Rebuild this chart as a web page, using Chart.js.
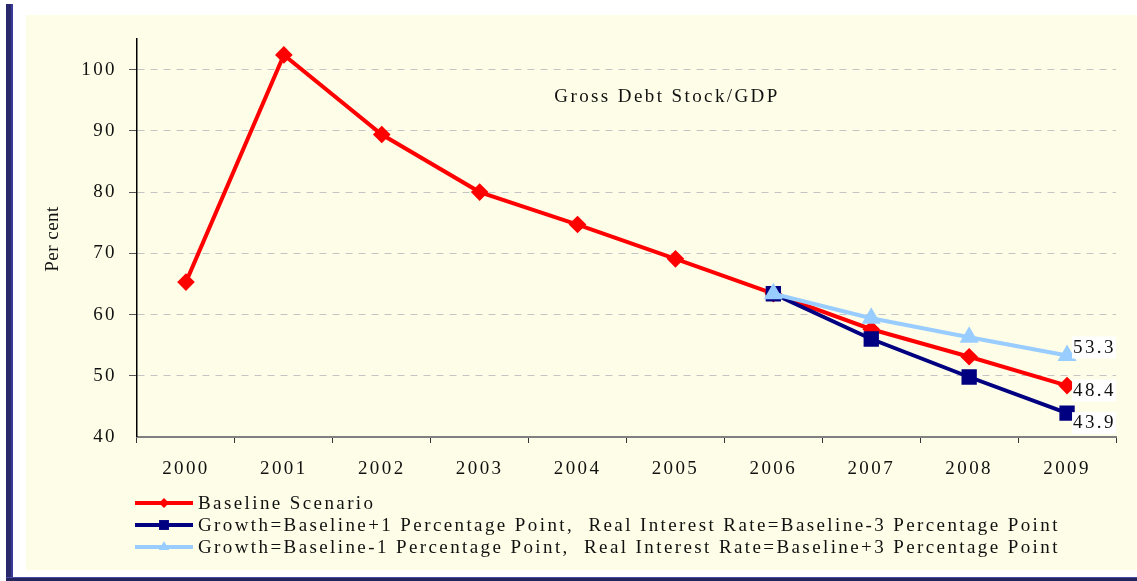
<!DOCTYPE html>
<html>
<head>
<meta charset="utf-8">
<script src="https://cdn.jsdelivr.net/npm/chart.js@4.4.1/dist/chart.umd.min.js"></script>
<style>
    body { margin: 0; background: #fff; width: 1137px; height: 581px; position: relative; overflow: hidden; }
    #leftBar { position: absolute; left: 6px; top: 4px; width: 5px; height: 577px; background: #28286a; border-right: 2px solid #3a3a98; }
    #bottomBar { position: absolute; left: 6px; top: 577px; width: 1131px; height: 4px; background: #24245e; border-top: 1px solid #4a4aa0; }
    #panel { position: absolute; left: 26px; top: 15px; width: 1111px; height: 555px; background: #fefee8; }
</style>
</head>
<body>
<div id="leftBar"></div>
<div id="panel"><canvas id="debtChart" width="1111" height="555"></canvas></div>
<div id="bottomBar"></div>
<script>
const years = ['2000', '2001', '2002', '2003', '2004', '2005', '2006', '2007', '2008', '2009'];
const baseline = [65.3, 102.4, 89.4, 80.0, 74.7, 69.1, 63.4, 57.6, 53.1, 48.4];
const growthPlus = [null, null, null, null, null, null, 63.4, 56.0, 49.8, 43.9];
const growthMinus = [null, null, null, null, null, null, 63.4, 59.4, 56.3, 53.3];

const seriesNames = [
    'Baseline Scenario',
    'Growth=Baseline+1 Percentage Point,  Real Interest Rate=Baseline-3 Percentage Point',
    'Growth=Baseline-1 Percentage Point,  Real Interest Rate=Baseline+3 Percentage Point'
];
const chartTitle = 'Gross Debt Stock/GDP';
const yTitle = 'Per cent';

const serif = '"Liberation Serif", "DejaVu Serif", serif';
const spacing = '2.4px';

// letter spacing like the original pdf rendering
const spacingPlugin = {
    id: 'spacing',
    beforeUpdate(chart) { chart.ctx.letterSpacing = spacing; },
    beforeDraw(chart) { chart.ctx.letterSpacing = spacing; }
};

// title inside the plot, y title, end value labels, legend with line + marker
const extrasPlugin = {
    id: 'extras',
    afterDatasetsDraw(chart) {
        const ctx = chart.ctx;
        ctx.save();
        ctx.letterSpacing = spacing;
        ctx.font = '19px ' + serif;
        ctx.fillStyle = '#111';
        ctx.textAlign = 'center';
        ctx.textBaseline = 'middle';
        ctx.fillText(chartTitle, 641, 82);

        ctx.save();
        ctx.letterSpacing = '0.5px';
        ctx.translate(27, 224);
        ctx.rotate(-Math.PI / 2);
        ctx.fillText(yTitle, 0, 0);
        ctx.restore();

        const shifts = [5, 10, -8];
        chart.data.datasets.forEach((ds, i) => {
            const meta = chart.getDatasetMeta(i);
            const last = meta.data[meta.data.length - 1];
            const txt = ds.data[ds.data.length - 1].toFixed(1);
            const w = ctx.measureText(txt).width;
            const x = last.x + 5;
            const y = last.y + shifts[i];
            ctx.fillStyle = '#ffffff';
            ctx.fillRect(x, y - 11, w + 1, 22);
            ctx.fillStyle = '#111';
            ctx.textAlign = 'left';
            ctx.fillText(txt, x + 1, y);
        });

        chart.data.datasets.forEach((ds, i) => {
            const y = 488 + i * 22;
            ctx.strokeStyle = ds.borderColor;
            ctx.lineWidth = 4;
            ctx.beginPath();
            ctx.moveTo(109, y);
            ctx.lineTo(167, y);
            ctx.stroke();
            ctx.fillStyle = ds.borderColor;
            Chart.helpers.drawPoint(ctx, {
                pointStyle: ds.pointStyle,
                radius: ds.pointRadius - 1,
                borderWidth: 0
            }, 138, y);
            ctx.fillStyle = '#111';
            ctx.textAlign = 'left';
            ctx.fillText(seriesNames[i], 172, y + 1);
        });
        ctx.restore();
    }
};

const ctx = document.getElementById('debtChart').getContext('2d');
new Chart(ctx, {
    type: 'line',
    data: {
        labels: years,
        datasets: [{
            label: seriesNames[0],
            data: baseline,
            borderColor: '#ff0000',
            backgroundColor: '#ff0000',
            borderWidth: 4,
            pointStyle: 'rectRot',
            pointRadius: 6,
            order: 2
        }, {
            label: seriesNames[1],
            data: growthPlus,
            borderColor: '#000080',
            backgroundColor: '#000080',
            borderWidth: 4,
            pointStyle: 'rect',
            pointRadius: 8,
            order: 1
        }, {
            label: seriesNames[2],
            data: growthMinus,
            borderColor: '#99ccff',
            backgroundColor: '#99ccff',
            borderWidth: 4,
            pointStyle: 'triangle',
            pointRadius: 7,
            order: 0
        }]
    },
    options: {
        responsive: false,
        animation: false,
        layout: { padding: { top: 24, right: 21, bottom: 85, left: 0 } },
        scales: {
            x: {
                offset: true,
                grid: {
                    offset: true,
                    drawOnChartArea: false,
                    tickLength: 6,
                    tickColor: '#333'
                },
                border: { color: '#808080', width: 2 },
                ticks: {
                    color: '#111',
                    padding: 15,
                    maxRotation: 0,
                    font: { family: serif, size: 19 }
                },
                afterFit(scale) { scale.height = 48; }
            },
            y: {
                min: 40,
                max: 105,
                afterBuildTicks(scale) {
                    scale.ticks = [40, 50, 60, 70, 80, 90, 100].map(v => ({ value: v }));
                },
                grid: {
                    color: '#c4c4c4',
                    tickColor: '#555',
                    tickLength: 8,
                    tickBorderDash: [],
                    lineWidth: c => c.tick && c.tick.value === 40 ? 0 : 1
                },
                border: { color: '#000', width: 1.5, dash: [7, 6] },
                ticks: {
                    color: '#111',
                    padding: 12,
                    font: { family: serif, size: 19 }
                },
                afterFit(scale) { scale.width = 111; }
            }
        },
        plugins: {
            legend: { display: false },
            title: { display: false },
            tooltip: { enabled: false }
        }
    },
    plugins: [spacingPlugin, extrasPlugin]
});
</script>
</body>
</html>
